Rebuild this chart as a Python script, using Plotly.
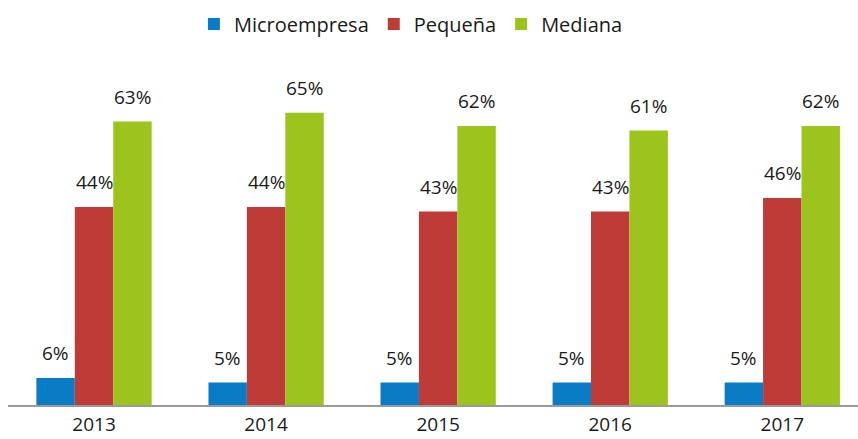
import plotly.graph_objects as go

years = ["2013", "2014", "2015", "2016", "2017"]
series_names = ["Microempresa", "Pequeña", "Mediana"]
micro = [6, 5, 5, 5, 5]
pequena = [44, 44, 43, 43, 46]
mediana = [63, 65, 62, 61, 62]
colors = ["#0A7CC6", "#BF3B38", "#9DC41D"]

series_values = [micro, pequena, mediana]
FONT = "Open Sans"
bargap = 0.33

fig = go.Figure()
for name, vals, col in zip(series_names, series_values, colors):
    fig.add_trace(go.Bar(
        x=years, y=vals, name=name, marker=dict(color=col, line=dict(width=0)),
    ))

# value labels above bars
n = len(series_values)
bw = (1 - bargap) / n
for i, vals in enumerate(series_values):
    for j, v in enumerate(vals):
        fig.add_annotation(
            x=j + (i - (n - 1) / 2) * bw, y=v, xref="x", yref="y",
            text=f"{v}%", showarrow=False, yanchor="bottom", yshift=10,
            font=dict(family=FONT, size=19, color="#1a1a1a"),
        )

fig.update_layout(
    width=858, height=439,
    margin=dict(l=8, r=0, t=60, b=34, autoexpand=False),
    paper_bgcolor="white", plot_bgcolor="white",
    barmode="group", bargap=bargap, bargroupgap=0,
    font=dict(family=FONT, size=19, color="#1a1a1a"),
    showlegend=True,
    legend=dict(orientation="h", x=0.474, xanchor="center", y=0.99, yanchor="top",
                yref="container", font=dict(family=FONT, size=20, color="#1a1a1a"),
                itemclick=False),
    xaxis=dict(type="category", range=[-0.5, 4.44], showgrid=False, automargin=False,
               showline=True, linecolor="#9a9a9a", linewidth=2,
               ticks="", ticklabelstandoff=1,
               tickfont=dict(family=FONT, size=19, color="#1a1a1a")),
    yaxis=dict(range=[0, 76.7], visible=False, showgrid=False, zeroline=False,
               automargin=False),
)

fig.write_html("out.html", config={"displayModeBar": False},
               post_script="document.body.style.margin='0';document.body.style.overflow='hidden';")
